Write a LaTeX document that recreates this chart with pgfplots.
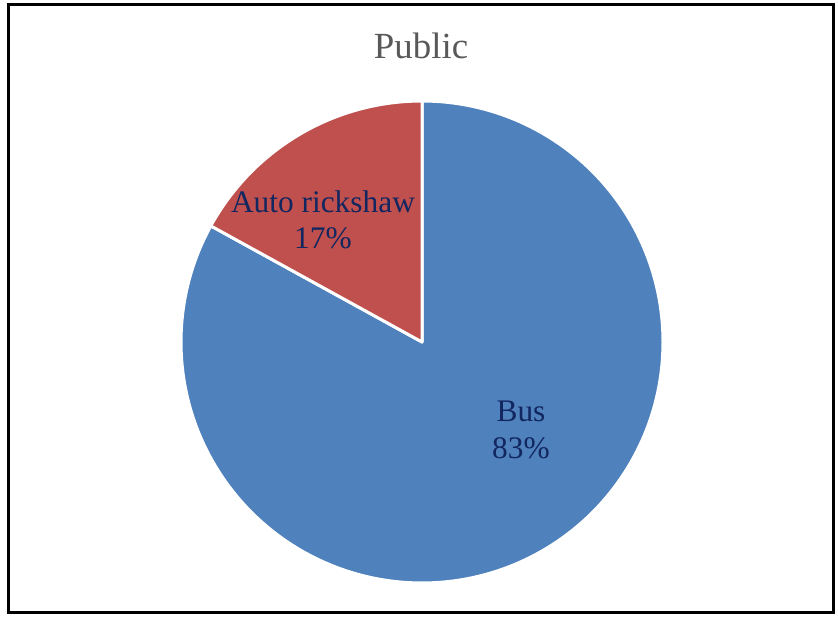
\documentclass[border=0pt]{standalone}
\usepackage{pgfplots}
\pgfplotsset{compat=1.18}
\usepackage{pgfplotstable}
\usepackage{fontspec}
\setmainfont{Liberation Serif}
\definecolor{busblue}{HTML}{4F81BD}
\definecolor{autored}{HTML}{C0504D}
\definecolor{labelnavy}{RGB}{18,38,96}
\definecolor{titlegray}{HTML}{595959}
\pgfplotstableread{
share
83
17
}\pietable
\pgfplotstablegetelem{0}{share}\of\pietable \let\busval\pgfplotsretval
\pgfplotstablegetelem{1}{share}\of\pietable \let\autoval\pgfplotsretval
\pgfmathsetmacro{\autoend}{90+3.6*\autoval}
\pgfmathsetmacro{\busend}{90-3.6*\busval}
\begin{document}
\begin{tikzpicture}
\begin{axis}[
  scale only axis, width=838bp, height=617bp,
  xmin=0, xmax=838, ymin=0, ymax=617,
  axis lines=none, clip=false,
]
\addplot[fill=busblue, draw=white, line width=3bp, line join=round,
  domain=\busend:90, samples=200, variable=\t]
  ({422+241*cos(t)},{275+241*sin(t)}) -- (axis cs:422,275) -- cycle;
\addplot[fill=autored, draw=white, line width=3bp, line join=round,
  domain=90:\autoend, samples=80, variable=\t]
  ({422+241*cos(t)},{275+241*sin(t)}) -- (axis cs:422,275) -- cycle;
\node[text=titlegray, font=\fontsize{37}{40}\selectfont] at (axis cs:421,571) {Public};
\node[text=labelnavy, align=center, font=\fontsize{31.5}{36}\selectfont] at (axis cs:323,397) {Auto rickshaw\\17\%};
\node[text=labelnavy, align=center, font=\fontsize{31.5}{37}\selectfont] at (axis cs:521,187) {Bus\\83\%};
\draw[line width=2.2bp] (axis cs:8.5,4.5) rectangle (axis cs:833.5,612.5);
\end{axis}
\useasboundingbox (0,0) rectangle (838bp,617bp);
\end{tikzpicture}
\end{document}
